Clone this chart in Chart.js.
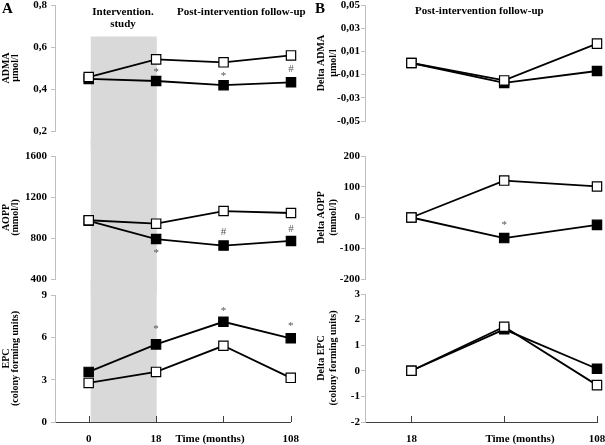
<!DOCTYPE html>
<html>
<head>
<meta charset="utf-8">
<script src="https://cdn.jsdelivr.net/npm/chart.js@4.4.1/dist/chart.umd.min.js"></script>
<style>
html, body { margin: 0; padding: 0; background: #fff; }
body { width: 605px; height: 445px; overflow: hidden; position: relative; font-family: 'Liberation Serif', 'Times New Roman', serif; font-weight: bold; color: #000; }
canvas { position: absolute; }
.t { position: absolute; font-size: 11px; line-height: 12px; text-align: center; white-space: nowrap; }
.big { position: absolute; font-size: 15px; line-height: 15px; }
</style>
</head>
<body>
<canvas id="aAdma" width="310" height="156" style="left:0;top:-10px"></canvas>
<canvas id="aAopp" width="310" height="153" style="left:0;top:141px"></canvas>
<canvas id="aEpc" width="310" height="172" style="left:0;top:280px"></canvas>
<canvas id="bAdma" width="320" height="146" style="left:300px;top:-10px"></canvas>
<canvas id="bAopp" width="320" height="153" style="left:300px;top:141px"></canvas>
<canvas id="bEpc" width="320" height="173" style="left:300px;top:279px"></canvas>

<div class="big" style="left:2px;top:1px">A</div>
<div class="big" style="left:315px;top:1px">B</div>
<div class="t" style="left:73px;width:100px;top:5px">Intervention.<br>study</div>
<div class="t" style="left:177px;width:120px;top:5px">Post-intervention follow-up</div>
<div class="t" style="left:415px;width:120px;top:4px">Post-intervention follow-up</div>
<div class="t" style="left:170px;width:80px;top:432px">Time (months)</div>
<div class="t" style="left:480px;width:80px;top:432px">Time (months)</div>

<script>
const timeA = ['0', '18', '', '108'];
const timeB = ['18', '', '108'];

const admaOpen = [0.457, 0.541, 0.527, 0.56];
const admaFilled = [0.448, 0.438, 0.418, 0.432];
const admaMarks = ['', '*', '*', '#'];
const admaTicks = [0.2, 0.4, 0.6, 0.8];

const aoppOpen = [973, 940, 1063, 1044];
const aoppFilled = [968, 790, 726, 771];
const aoppMarks = ['', '*', '#', '#'];
const aoppTicks = [400, 800, 1200, 1600];

const epcOpen = [2.77, 3.55, 5.4, 3.13];
const epcFilled = [3.55, 5.5, 7.1, 5.93];
const epcMarks = ['', '*', '*', '*'];
const epcTicks = [0, 3, 6, 9];

const dAdmaOpen = [0, -0.015, 0.0167];
const dAdmaFilled = [0, -0.0172, -0.0069];
const dAdmaTicks = [-0.05, -0.03, -0.01, 0.01, 0.03, 0.05];

const dAoppOpen = [0, 120, 101];
const dAoppFilled = [0, -67, -24];
const dAoppMarks = ['', '*', ''];
const dAoppTicks = [-200, -100, 0, 100, 200];

const dEpcOpen = [0, 1.72, -0.56];
const dEpcFilled = [0, 1.62, 0.08];
const dEpcTicks = [-2, -1, 0, 1, 2, 3];

const serif = 'Liberation Serif';

// grey band, significance marks and the small upward x ticks
const extras = {
    id: 'extras',
    beforeDraw(chart, args, o) {
        if (!o.band) return;
        const { ctx, scales: { x, y }, chartArea } = chart;
        const x1 = x.getPixelForValue(o.band[0]);
        const x2 = x.getPixelForValue(o.band[1]);
        const top = o.bandTop != null ? y.getPixelForValue(o.bandTop) : 0;
        const bottom = o.axis ? chartArea.bottom : chart.height;
        ctx.save();
        ctx.fillStyle = '#d9d9d9';
        ctx.fillRect(x1, top, x2 - x1, bottom - top);
        ctx.restore();
    },
    afterDraw(chart, args, o) {
        const { ctx, scales: { x, y }, chartArea } = chart;
        ctx.save();
        if (o.marks) {
            const open = chart.data.datasets[0].data;
            const filled = chart.data.datasets[1].data;
            ctx.font = '11px ' + serif;
            ctx.fillStyle = '#555';
            ctx.textAlign = 'center';
            ctx.textBaseline = 'middle';
            o.marks.forEach((m, i) => {
                if (!m) return;
                const px = x.getPixelForValue(i);
                let py;
                if (o.markOffset === 'mid') py = (y.getPixelForValue(open[i].y) + y.getPixelForValue(filled[i].y)) / 2;
                else py = y.getPixelForValue(filled[i].y) + o.markOffset[i];
                ctx.fillText(m, px, py + (m === '*' ? 2 : 0));
            });
        }
        if (o.axis) {
            ctx.strokeStyle = '#404040';
            ctx.lineWidth = 1;
            chart.data.labels.forEach((l, i) => {
                const px = Math.round(x.getPixelForValue(i)) + 0.5;
                ctx.beginPath();
                ctx.moveTo(px, chartArea.bottom);
                ctx.lineTo(px, chartArea.bottom - 6);
                ctx.stroke();
            });
        }
        ctx.restore();
    }
};

function makePanel(id, cfg) {
    const pts = arr => arr.map((v, i) => ({ x: i, y: v }));
    const last = cfg.labels.length - 1;
    return new Chart(document.getElementById(id), {
        type: 'line',
        data: {
            labels: cfg.labels,
            datasets: [
                { data: pts(cfg.open), borderColor: '#000', borderWidth: 1.8, pointStyle: 'rect', pointRadius: 6.6,
                  pointBackgroundColor: '#fff', pointBorderColor: '#000', pointBorderWidth: 1.2, clip: false, tension: 0 },
                { data: pts(cfg.filled), borderColor: '#000', borderWidth: 1.8, pointStyle: 'rect', pointRadius: 6.6,
                  pointBackgroundColor: '#000', pointBorderColor: '#000', pointBorderWidth: 1.2, clip: false, tension: 0 }
            ]
        },
        options: {
            responsive: false,
            animation: false,
            layout: { padding: { left: 0, right: cfg.padRight, top: 15, bottom: cfg.axis ? 0 : 15 } },
            plugins: {
                legend: { display: false },
                tooltip: { enabled: false },
                extras: { band: cfg.band, bandTop: cfg.bandTop, marks: cfg.marks, markOffset: cfg.markOffset, axis: cfg.axis }
            },
            scales: {
                x: {
                    type: 'linear',
                    display: !!cfg.axis,
                    min: -0.5,
                    max: last,
                    afterBuildTicks: s => { s.ticks = cfg.labels.map((l, i) => ({ value: i })); },
                    afterFit: s => { s.height = cfg.axis ? 30 : 0; },
                    grid: { display: false, drawTicks: false },
                    border: { display: true, color: '#404040', width: 1 },
                    ticks: {
                        padding: 11,
                        autoSkip: false,
                        maxRotation: 0,
                        color: '#000',
                        font: { family: serif, size: 11, weight: 'bold' },
                        callback: (v, i) => cfg.labels[i]
                    }
                },
                y: {
                    min: cfg.ticks[0],
                    max: cfg.ticks[cfg.ticks.length - 1],
                    afterBuildTicks: s => { s.ticks = cfg.ticks.map(v => ({ value: v })); },
                    afterFit: s => { s.width = cfg.yWidth; },
                    grid: { drawOnChartArea: false, tickLength: 4, color: '#c0c0c0' },
                    border: { color: '#c0c0c0', width: 1 },
                    ticks: {
                        padding: cfg.tickPad,
                        color: '#000',
                        font: { family: serif, size: 11, weight: 'bold' },
                        callback: v => cfg.fmt(v)
                    },
                    title: {
                        display: true,
                        text: cfg.title,
                        color: '#000',
                        padding: { top: cfg.titlePad, bottom: 0 },
                        font: { family: serif, size: 10, weight: 'bold', lineHeight: cfg.titleLine }
                    }
                }
            }
        },
        plugins: [extras]
    });
}

const comma = d => v => v.toFixed(d).replace('.', ',');
const whole = v => String(Math.round(v));
const left = { labels: timeA, yWidth: 55, padRight: 19, tickPad: 4, titlePad: 2, titleLine: '9px', band: [0.03, 1.01] };
const right = { labels: timeB, yWidth: 65, padRight: 23, tickPad: 1, titlePad: 16, titleLine: '11.5px' };

makePanel('aAdma', { ...left, open: admaOpen, filled: admaFilled, ticks: admaTicks, fmt: comma(1),
    title: ['ADMA', 'μmol/l'], bandTop: 0.65, marks: admaMarks, markOffset: 'mid' });
makePanel('aAopp', { ...left, open: aoppOpen, filled: aoppFilled, ticks: aoppTicks, fmt: whole,
    title: ['AOPP', '(mmol/l)'], marks: aoppMarks, markOffset: [0, 12, -13, -12] });
makePanel('aEpc', { ...left, open: epcOpen, filled: epcFilled, ticks: epcTicks, fmt: whole, axis: true,
    title: ['EPC', '(colony forming units)'], marks: epcMarks, markOffset: [0, -17, -13, -14] });

makePanel('bAdma', { ...right, open: dAdmaOpen, filled: dAdmaFilled, ticks: dAdmaTicks, fmt: comma(2),
    title: ['Delta ADMA', 'μmol/l'] });
makePanel('bAopp', { ...right, open: dAoppOpen, filled: dAoppFilled, ticks: dAoppTicks, fmt: whole,
    title: ['Delta AOPP', '(mmol/l)'], marks: dAoppMarks, markOffset: [0, -15, 0] });
makePanel('bEpc', { ...right, open: dEpcOpen, filled: dEpcFilled, ticks: dEpcTicks, fmt: whole, axis: true,
    title: ['Delta EPC', '(colony forming units)'] });
</script>
</body>
</html>
